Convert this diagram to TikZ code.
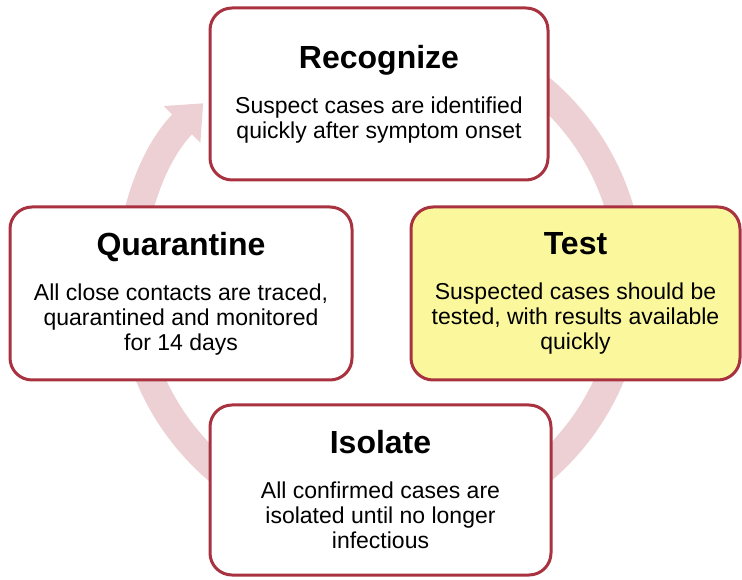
\documentclass[tikz,border=0pt]{standalone}
\usepackage{fontspec}
\setmainfont{Liberation Sans}
\usetikzlibrary{arrows.meta,positioning}
\definecolor{boxred}{HTML}{A8323F}
\definecolor{cyclepink}{HTML}{EDD0D4}
\definecolor{testyellow}{HTML}{FBF79C}
\newcommand{\steptitle}[1]{{\fontsize{32}{36}\selectfont\bfseries #1}\\[20pt]}

\begin{document}
\begin{tikzpicture}[
        x=1pt, y=1pt,
        stage/.style={rectangle, draw=boxred, line width=3pt, rounded corners=22pt, fill=white, align=center, inner sep=0pt, font=\fontsize{23}{25}\selectfont},
        cyclearrow/.style={draw=cyclepink, line width=28pt, -{Triangle[width=50pt, length=30pt]}}
    ]
        \useasboundingbox (0,0) rectangle (742,579);

        % Cycle behind the stages
        \coordinate (hub) at (380,299);
        \draw[cyclearrow] ([shift={(95:250pt)}]hub) arc[start angle=95, end angle=-225, radius=250pt];

        % Stages
        \node[stage, minimum width=338pt, minimum height=172pt] (recognize) at (379,485)
            {\steptitle{Recognize}Suspect cases are identified\\quickly after symptom onset};
        \node[stage, minimum width=342pt, minimum height=173pt] (quarantine) at (181,285.5)
            {\steptitle{Quarantine}All close contacts are traced,\\quarantined and monitored\\for 14 days};
        \node[stage, fill=testyellow, minimum width=329pt, minimum height=173pt] (test) at (575.5,285.5)
            {\steptitle{Test}Suspected cases should be\\tested, with results available\\quickly};
        \node[stage, minimum width=341pt, minimum height=170pt] (isolate) at (380.5,89)
            {\steptitle{Isolate}All confirmed cases are\\isolated until no longer\\infectious};
    \end{tikzpicture}
\end{document}
